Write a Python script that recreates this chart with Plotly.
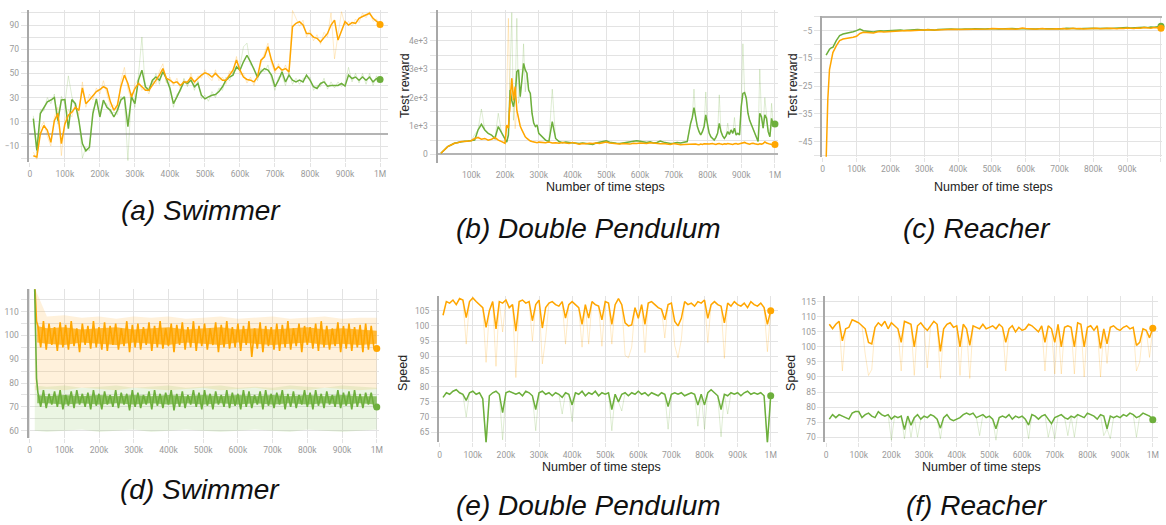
import plotly.graph_objects as go

W, H = 1166, 525
ORANGE = "#FFA600"
GREEN = "#6DAF3C"
OR_RAW = "rgba(255,166,0,0.22)"
GR_RAW = "rgba(109,175,60,0.22)"
OR_BAND = "rgba(255,190,90,0.22)"
GR_BAND = "rgba(130,190,80,0.16)"
OR_CORE = "rgba(255,166,0,0.75)"
GR_CORE = "rgba(109,175,60,0.75)"
GRID = "#e3e3e3"

# ---------------- x tick labels (thousands of steps) ----------------
X_TICK_VALS = [0, 100, 200, 300, 400, 500, 600, 700, 800, 900, 1000]
X_TICK_TEXT = ["0", "100k", "200k", "300k", "400k", "500k", "600k", "700k", "800k", "900k", "1M"]

# ---------------- (a) Swimmer: test reward ----------------
A_X = list(range(10, 1001, 10))
A_ORANGE = [-18, -19, 0, 7, 3, -7, 11, 17, -8, 8,
            15.5, 18, 22, 19.5, 38, 25, 28, 32, 35, 36.7,
            39, 37.5, 26.5, 19.5, 23.7, 39, 48.6, 41.7, 30.6, 37.5,
            41.7, 39, 36, 36, 40, 44.4, 48.6, 54, 45.8, 44.4,
            42.2, 43, 40, 43, 43, 46.6, 43, 45.8, 48.6, 50.5,
            49.4, 47, 50, 47, 44.4, 44.4, 48.6, 52.7, 61, 52.7,
            47, 45, 44.4, 43, 47, 61, 63.8, 72, 61, 52.7,
            55.5, 52.7, 54, 51.3, 88.6, 91.4, 92.8, 90, 83, 83,
            80, 79, 76, 80, 83, 90, 94, 77.6, 86, 92.8,
            90, 92, 91.4, 95.5, 97, 98.3, 99.7, 95.5, 92.8, 90.5]
A_GREEN = [12.6, -13.6, 16.8, 22, 26.5, 28, 30, 11, 28, 28.4,
           4.4, 28.4, 25, 11, -8, -14, -11, 16.8, 29, 14,
           28, 22, 19.5, 14, 19.5, 28, 30.6, 6, 30.6, 25,
           44.4, 52.7, 39, 36, 44.4, 47, 44.4, 51.3, 45.8, 37.5,
           25, 30.6, 37.5, 43, 41.7, 44.4, 39, 41.7, 32, 29,
           30.6, 32, 32.5, 35, 39, 44.4, 47, 48.6, 55.5, 52.7,
           59.6, 65, 59.6, 52.7, 47, 51.3, 54, 52.7, 48.6, 39,
           44.4, 51.3, 43, 48.6, 44.4, 43, 44.4, 43, 48.6, 44.4,
           39, 37.5, 41.7, 43, 39.5, 40, 40, 40, 41.7, 39.5,
           48.6, 45.8, 47, 44.4, 47, 44.4, 47, 43, 45.8, 45]
A_ORANGE_RAW = [-15, -21, 5, 10, -2, -10, 14, 22, -18, 12,
                20, 14, 25, 16, 43, 22, 33, 28, 38, 33,
                44, 34, 22, 24, 20, 44, 55, 37, 27, 41,
                45, 36, 39, 33, 44, 41, 52, 58, 42, 47,
                40, 46, 37, 45, 40, 50, 41, 48, 46, 53,
                47, 44, 53, 44, 47, 41, 52, 50, 64, 49,
                50, 42, 47, 40, 50, 58, 67, 75, 58, 50,
                58, 50, 57, 49, 102, 95, 89, 94, 80, 86,
                77, 82, 74, 84, 80, 100, 62, 82, 101, 90,
                93, 89, 95, 92, 100, 96, 101, 93, 95, 89]
A_GREEN_RAW = [15, -16, 20, 19, 30, 25, 33, 8, 31, 25,
               48, 31, 22, 14, -20, -11, -14, 20, 26, 17,
               25, 25, 17, 18, 16, 31, 28, -22, 34, 22,
               48, 80, 36, 39, 41, 50, 41, 54, 43, 40,
               22, 33, 35, 46, 39, 47, 36, 44, 29, 32,
               27, 35, 30, 38, 36, 47, 44, 51, 53, 56,
               72, 75, 57, 55, 44, 54, 51, 57, 45, 36,
               47, 48, 40, 51, 41, 46, 41, 46, 46, 47,
               36, 40, 39, 46, 37, 43, 38, 43, 39, 42,
               55, 43, 50, 42, 50, 41, 50, 40, 48, 43]

# ---------------- (b) Double Pendulum: test reward ----------------
B_X = (list(range(10, 200, 10)) + list(range(200, 300, 5))
       + list(range(300, 750, 10)) + list(range(750, 1001, 5)))
B_ORANGE = ([35, 150, 270, 330, 390, 410, 450, 450, 470, 480, 560, 590, 530, 560, 500, 530, 590, 500, 450]
            + [390, 1035, 920, 1900, 2680, 1900, 2390, 1560, 1210, 1000, 860, 720, 620, 560, 500, 470, 450, 430, 420, 410]
            + [430, 420, 410, 430, 400, 410, 390, 420, 400, 380, 420, 390, 360, 380, 370, 390, 380, 400, 380, 410,
               430, 400, 380, 370, 360, 380, 370, 360, 390, 380, 400, 390, 380, 410, 390, 380, 370, 380, 360, 350,
               380, 360, 340, 350, 360]
            + [350, 360, 370, 360, 350, 340, 360, 350, 370, 360, 350, 360, 370, 380, 360, 350, 370, 380, 360, 350,
               370, 360, 380, 370, 360, 350, 370, 380, 360, 370, 380, 400, 420, 390, 370, 360, 380, 390, 370, 360,
               350, 370, 360, 380, 440, 400, 370, 360, 350, 360, 350])
B_GREEN = ([35, 150, 270, 330, 390, 420, 450, 460, 470, 480, 500, 860, 1060, 860, 740, 680, 560, 980, 740]
           + [500, 430, 680, 2270, 1900, 1680, 2030, 2920, 2980, 2030, 2620, 3210, 2980, 2860, 2270, 2150, 1450, 1100, 980, 1035]
           + [740, 620, 500, 450, 1150, 560, 450, 410, 430, 420, 400, 390, 380, 400, 380, 370, 350, 400, 430, 470,
              480, 430, 400, 390, 380, 400, 420, 430, 440, 480, 460, 440, 420, 440, 400, 420, 470, 430, 400, 380,
              390, 420, 400, 430, 450]
           + [1090, 1300, 1650, 1300, 980, 800, 680, 800, 980, 1390, 980, 750, 620, 550, 500, 600, 740, 1090, 800, 650,
              560, 650, 800, 700, 860, 740, 920, 680, 740, 680, 1680, 2150, 2180, 1980, 1450, 1200, 1035, 900, 740, 600,
              450, 1450, 1330, 920, 1390, 1270, 800, 620, 1270, 1035, 1070])
B_ORANGE_SPIKES = {205: 2100, 210: 4800, 215: 1500, 225: 2200, 230: 900, 120: 650, 170: 650}
B_GREEN_SPIKES = {110: 700, 130: 1600, 180: 1450, 215: 2500, 220: 5000, 225: 1200, 235: 4800, 240: 1800,
                  255: 3900, 260: 2200, 340: 2300, 760: 2300, 795: 2200, 835: 2100, 905: 3900, 955: 3000,
                  970: 2000, 990: 1800, 880: 1300, 860: 1100}

# ---------------- (c) Reacher: test reward ----------------
C_X = [10, 15, 20, 25, 30] + list(range(40, 1001, 10))
C_ORANGE = ([-52, -29.8, -19, -15.3, -12.9, -10.5, -8.6, -8, -7.8, -7.7, -7.4, -7, -6, -5.6, -5.7, -5.6,
             -5.8, -5.5, -5.3, -5.5, -5.4, -5.3]
            + [-5.2, -5.1, -5.0, -5.0, -4.9, -5.0, -4.9, -4.8, -4.9, -4.8,
               -4.7, -4.8, -4.9, -4.8, -4.7, -4.6, -4.7, -4.6, -4.5, -4.6,
               -4.6, -4.5, -4.6, -4.5, -4.4, -4.5, -4.6, -4.5, -4.4, -4.2,
               -4.3, -4.4, -4.5, -4.4, -4.3, -4.4, -4.5, -4.3, -4.0, -4.2,
               -4.3, -4.4, -4.5, -4.3, -4.2, -4.4, -4.5, -4.4, -4.3, -4.4,
               -4.2, -4.4, -4.3, -4.1, -4.3, -4.2, -4.4, -4.3, -4.2, -4.3,
               -4.1, -4.3, -4.2, -4.3, -4.1, -4.2, -4.3, -4.1, -4.2, -4.0,
               -4.1, -4.2, -4.0, -4.1, -3.9, -4.0, -4.1, -3.9, -4.0, -4.1])
C_GREEN = ([-13.8, -12.5, -11.7, -11.2, -11, -8.6, -6.8, -6.2, -6, -5.6, -5.4, -5, -4.4, -5, -5.2, -5.3,
            -5.5, -5.2, -5, -5.1, -5, -5]
           + [-5.0, -4.9, -4.8, -4.9, -4.8, -4.7, -4.8, -4.6, -4.7, -4.8,
              -4.6, -4.7, -4.8, -4.6, -4.5, -4.6, -4.5, -4.4, -4.5, -4.6,
              -4.5, -4.4, -4.5, -4.4, -4.3, -4.4, -4.3, -4.4, -4.3, -4.2,
              -4.3, -4.4, -4.3, -4.4, -4.3, -4.2, -4.3, -4.4, -4.3, -4.3,
              -4.4, -4.3, -4.4, -4.3, -4.3, -4.4, -4.2, -4.3, -4.4, -4.2,
              -4.3, -4.1, -4.2, -4.3, -4.2, -4.3, -4.2, -4.1, -4.2, -4.1,
              -4.2, -4.1, -4.2, -4.1, -4.2, -4.1, -4.0, -4.1, -4.0, -3.9,
              -4.0, -3.9, -3.8, -3.9, -3.8, -3.9, -3.7, -3.8, -3.6, -3.4])

# ---------------- (d) Swimmer: speed ----------------
D_X = [14, 17, 20] + list(range(24, 1001, 8))
D_ORANGE = ([125, 112, 106]
            + [104, 95, 106, 94, 105, 96, 103.5, 93.5, 105.5, 95,
               104.5, 94, 106, 95.5, 103, 93, 105, 96, 104, 94.5,
               106, 95, 103.5, 94, 105.5, 93.5, 104, 96, 105, 94,
               103, 95.5, 106, 93, 104.5, 95, 105, 94, 103.5, 96,
               105.5, 93.5, 104, 95, 106, 94.5, 103, 95.5, 105, 93,
               104.5, 96, 105.5, 94, 103.5, 95, 106, 93.5, 104, 95.5,
               105, 94, 103, 96, 105.5, 93, 104.5, 95, 106, 94.5,
               103.5, 95, 105, 93.5, 104, 96, 106, 91, 103, 94.5,
               105.5, 93, 104, 95.5, 103.5, 94, 105, 93.5, 104.5, 95,
               106, 94, 103, 95.5, 105, 93, 104, 96, 103.5, 94.5,
               105, 93.5, 106, 95, 104, 94, 103, 95.5, 105.5, 93,
               104, 94.5, 105, 93.5, 103.5, 95, 104.5, 93, 105, 94,
               104, 94.5, 94.5])
D_GREEN = ([125, 100, 82]
           + [76, 70, 77, 69.5, 75.5, 71, 76.5, 70, 77, 69,
              75, 70.5, 76.5, 69.5, 77, 71, 75.5, 70, 76, 69,
              77, 70.5, 75.5, 69, 76.5, 71, 75, 70, 77, 69.5,
              76, 71, 75.5, 68.5, 77, 70, 76, 69.5, 75, 71,
              76.5, 69, 77, 70.5, 75.5, 69.5, 76, 71, 77, 68.5,
              75.5, 70, 76.5, 69.5, 75, 71, 77, 70, 76, 69,
              77, 70.5, 75.5, 69, 76.5, 71, 75, 70, 77, 69.5,
              76, 70.5, 75.5, 69, 77, 70, 76.5, 69.5, 75, 71,
              76.5, 69, 77, 70.5, 75.5, 69.5, 76, 71, 77, 69,
              75.5, 70, 76.5, 69.5, 75, 71, 77, 70, 76, 69,
              77, 70.5, 75.5, 69.5, 76.5, 71, 75, 70, 77, 69.5,
              76, 70.5, 76.5, 69, 77, 70, 75.5, 69.5, 76, 71,
              76, 70, 70])
D_BAND_X = [15] + list(range(50, 1001, 50))
D_ORANGE_HI = [120, 108, 108.5, 107.5, 108, 107, 108, 107.5, 108, 107, 107.5, 108, 107, 107.5, 108, 107, 107.5, 108, 107, 107.5, 107.5]
D_ORANGE_LO = [77, 77.5, 77, 78, 77.5, 77, 78, 77.5, 77, 77.5, 78, 77, 77.5, 78, 77, 77.5, 77, 78, 77.5, 77, 77.5]
D_GREEN_HI = [79, 78.5, 79, 78, 78.5, 79, 78, 78.5, 79, 78, 78.5, 79, 78, 78.5, 78, 79, 78.5, 78, 79, 78.5, 78]
D_GREEN_LO = [60, 59.5, 60, 60.5, 59.5, 60, 60.5, 59.5, 60, 60.5, 60, 59.5, 60, 60.5, 60, 59.5, 60.5, 60, 59.5, 60, 60.5]
D_CORE_X = [22] + list(range(50, 1001, 50))
D_ORANGE_CORE_HI = [104, 103, 103.5, 102.5, 103, 103.5, 102.5, 103, 103.5, 102.5, 103, 103.5, 102.5, 103, 102.5, 103, 103.5, 102.5, 103, 102.5, 102]
D_ORANGE_CORE_LO = [97, 96.5, 96, 97, 96.5, 96, 97, 96.5, 96, 97, 96.5, 96, 97, 96.5, 96, 96.5, 97, 96, 96.5, 96, 96.5]
D_GREEN_CORE_HI = [75, 74.5, 75, 74.5, 75, 74.5, 75, 74.5, 75, 74.5, 75, 74.5, 75, 74.5, 75, 74.5, 75, 74.5, 75, 74.5, 74.5]
D_GREEN_CORE_LO = [71.5, 71.5, 71, 71.5, 71, 71.5, 71, 71.5, 71, 71.5, 71, 71.5, 71, 71.5, 71, 71.5, 71, 71.5, 71, 71.5, 71]

# ---------------- (e) Double Pendulum: speed ----------------
E_X = list(range(10, 1001, 10))
E_ORANGE = [103.5, 108, 107.5, 108.5, 107, 109, 108.5, 102.7, 108, 109.2,
            108, 107, 106, 99.5, 105, 108, 99, 108, 107.5, 108.5,
            106, 107, 98.3, 108, 108.5, 107.5, 108, 101.7, 107, 108.5,
            99.3, 106, 107.5, 108, 107, 106.5, 108, 102.6, 107, 108,
            107, 106, 100.5, 107, 102.6, 108, 107, 106.5, 102, 108,
            107.5, 100.5, 107, 109, 107, 101, 100, 100.3, 106, 102.5,
            107, 100.5, 107.5, 108, 107, 106, 105.5, 102, 107, 107.5,
            101.5, 100, 102.5, 108, 107, 107.5, 106.5, 108, 107.5, 108.5,
            102.5, 107, 108, 107, 106.5, 101, 107.5, 106.5, 108, 107,
            106.5, 107.5, 106, 108, 107, 106.5, 107.5, 106, 100.5, 105]
E_GREEN = [76.5, 78, 77.5, 78.5, 79, 78, 77.5, 75.5, 78, 78.5,
           77.5, 78, 76, 61.5, 77, 78, 78.5, 77.5, 71.5, 78,
           78.5, 78, 77.5, 78, 77, 78.5, 78, 77, 72.5, 78,
           78.5, 77.5, 78, 77, 78, 77.5, 76.5, 78, 77.5, 74,
           78, 77.5, 78.5, 77, 78, 77.5, 78.5, 77, 78, 77.5,
           78, 72.5, 77.5, 75, 77.5, 78, 77, 78, 77.5, 78.5,
           77.5, 78, 77, 78, 77.5, 77, 78, 77.5, 73.5, 77.5,
           78, 77.5, 78, 77, 77.5, 78, 77.5, 74, 77.5, 74,
           78, 79, 78, 77, 72.5, 77.5, 77, 78, 77.5, 78,
           77, 78, 78.5, 77.5, 78, 77.5, 78, 77, 61.5, 77]
E_ORANGE_SPIKES = {80: 94, 140: 88, 170: 86.7, 190: 98, 230: 83, 280: 95, 310: 87.5, 320: 96, 380: 94,
                   430: 93, 450: 94, 490: 93.3, 520: 94, 560: 90.3, 570: 89.5, 580: 93, 620: 91.2, 680: 96,
                   710: 93.5, 720: 89.5, 730: 95.5, 810: 94.5, 860: 89.3, 990: 91.5}
E_GREEN_SPIKES = {80: 70, 140: 61, 190: 62.5, 290: 65.5, 370: 71, 400: 68.5, 520: 65.5, 550: 72, 690: 66,
                  780: 67, 800: 66, 850: 63.5, 870: 71, 990: 61}

# ---------------- (f) Reacher: speed ----------------
F_X = list(range(10, 1001, 10))
F_ORANGE = [107.5, 106, 107.5, 108.5, 102, 106, 106.5, 109, 108.5, 108,
            107, 106, 101.5, 101, 106.5, 108, 107, 108.5, 106, 108,
            107, 106, 101.5, 108.5, 108, 107.5, 100, 107, 108, 106.5,
            105.5, 107, 108.5, 107.5, 98.5, 106, 107.5, 108, 106.5, 107,
            100, 107.5, 106, 100.5, 107, 106.5, 106, 107.5, 106, 106.5,
            107, 106, 107.5, 106.5, 101.5, 106, 107, 105, 106.5, 105.5,
            106, 107.5, 107, 106, 105, 107, 101.5, 107, 106, 101.5,
            107.5, 100, 106.5, 107, 106.5, 100, 108, 107.5, 100, 106.5,
            107, 105.5, 107, 99.5, 106, 101, 106.5, 107, 106, 105.5,
            106.5, 107, 106, 106.5, 100.5, 101.5, 106, 105.5, 103, 106.2]
F_GREEN = [76, 77.5, 76.5, 77.5, 77, 76.5, 76, 78, 78.5, 78.5,
           76.5, 77.5, 78, 77, 76.5, 78.5, 77.5, 77, 77.5, 76,
           77, 76.5, 77, 72.5, 77, 74, 76.5, 77.5, 76, 77,
           76.5, 77.5, 77, 76, 73, 76.5, 77.5, 76, 75.5, 76,
           76.5, 77.5, 78, 77.5, 78, 76.5, 77, 77.5, 76.5, 77,
           76, 72.8, 76.5, 77, 76.5, 77.5, 76, 77, 76.5, 77,
           76, 74, 77.5, 77, 76, 77, 77.5, 76, 74.5, 76.5,
           77, 77.5, 76.5, 76, 77, 76.5, 77.5, 77, 76.5, 78,
           77.5, 77, 76, 77.5, 77, 72.8, 77, 76.5, 77, 76.5,
           77.5, 77, 78, 77.5, 76.5, 77, 78, 77.5, 77, 75.8]
F_ORANGE_SPIKES = {50: 92, 120: 97.5, 130: 90.5, 140: 92.5, 230: 92, 270: 90.5, 310: 93, 350: 89.5,
                   410: 90.5, 440: 89.5, 550: 92, 670: 92, 700: 91, 720: 91, 760: 91, 790: 90, 840: 90,
                   860: 94.5, 950: 92, 960: 95, 990: 96.5}
F_GREEN_SPIKES = {200: 69, 240: 69.5, 260: 70, 280: 70, 350: 69.5, 470: 70.5, 520: 69, 620: 69.5,
                  680: 70, 700: 69.5, 740: 70.5, 760: 70, 850: 70.5, 870: 69.5, 950: 70}

CAPTIONS = ["(a) Swimmer", "(b) Double Pendulum", "(c) Reacher",
            "(d) Swimmer", "(e) Double Pendulum", "(f) Reacher"]
X_TITLE = "Number of time steps"
Y_TITLES = {2: "Test reward", 3: "Test reward", 5: "Speed", 6: "Speed"}


def with_spikes(xs, ys, spikes):
    return [spikes.get(x, y) for x, y in zip(xs, ys)]


fig = go.Figure()


def ax(i):
    return ("x" if i == 1 else f"x{i}"), ("y" if i == 1 else f"y{i}")


def line(i, xs, ys, color, width=1.5, end=True):
    xa, ya = ax(i)
    fig.add_trace(go.Scatter(x=xs, y=ys, mode="lines", line=dict(color=color, width=width),
                             xaxis=xa, yaxis=ya, hoverinfo="skip", showlegend=False))
    if end:
        fig.add_trace(go.Scatter(x=[xs[-1]], y=[ys[-1]], mode="markers",
                                 marker=dict(color=color, size=7), cliponaxis=False,
                                 xaxis=xa, yaxis=ya, hoverinfo="skip", showlegend=False))


def band(i, xs, lo, hi, color):
    xa, ya = ax(i)
    fig.add_trace(go.Scatter(x=xs, y=lo, mode="lines", line=dict(width=0, color=color),
                             xaxis=xa, yaxis=ya, hoverinfo="skip", showlegend=False))
    fig.add_trace(go.Scatter(x=xs, y=hi, mode="lines", line=dict(width=0, color=color),
                             fill="tonexty", fillcolor=color,
                             xaxis=xa, yaxis=ya, hoverinfo="skip", showlegend=False))


# (a)
line(1, A_X, A_ORANGE_RAW, OR_RAW, 1, end=False)
line(1, A_X, A_GREEN_RAW, GR_RAW, 1, end=False)
line(1, A_X, A_GREEN, GREEN)
line(1, A_X, A_ORANGE, ORANGE)
# (b)
line(2, B_X, with_spikes(B_X, B_ORANGE, B_ORANGE_SPIKES), OR_RAW, 1, end=False)
line(2, B_X, with_spikes(B_X, B_GREEN, B_GREEN_SPIKES), GR_RAW, 1, end=False)
line(2, B_X, B_GREEN, GREEN)
line(2, B_X, B_ORANGE, ORANGE)
# (c)
line(3, C_X, C_GREEN, GREEN)
line(3, C_X, C_ORANGE, ORANGE)
# (d)
band(4, D_BAND_X, D_ORANGE_LO, D_ORANGE_HI, OR_BAND)
band(4, D_BAND_X, D_GREEN_LO, D_GREEN_HI, GR_BAND)
band(4, D_CORE_X, D_ORANGE_CORE_LO, D_ORANGE_CORE_HI, OR_CORE)
band(4, D_CORE_X, D_GREEN_CORE_LO, D_GREEN_CORE_HI, GR_CORE)
line(4, D_X, D_ORANGE, ORANGE, 1.6)
line(4, D_X, D_GREEN, GREEN, 1.6)
# (e)
line(5, E_X, with_spikes(E_X, E_ORANGE, E_ORANGE_SPIKES), OR_RAW, 1, end=False)
line(5, E_X, with_spikes(E_X, E_GREEN, E_GREEN_SPIKES), GR_RAW, 1, end=False)
line(5, E_X, E_ORANGE, ORANGE)
line(5, E_X, E_GREEN, GREEN)
# (f)
line(6, F_X, with_spikes(F_X, F_ORANGE, F_ORANGE_SPIKES), OR_RAW, 1, end=False)
line(6, F_X, with_spikes(F_X, F_GREEN, F_GREEN_SPIKES), GR_RAW, 1, end=False)
line(6, F_X, F_ORANGE, ORANGE)
line(6, F_X, F_GREEN, GREEN)

TICKFONT = dict(family="Roboto, Arial, sans-serif", size=8.5, color="#9a9a9a")

# panel geometry in pixels: left, right, top, bottom ; ranges
PANELS = {
    1: dict(px=(27, 388, 10, 162), xr=[-2.8, 1022.7], yr=[-23.2, 102.4],
            yt=[-10, 10, 30, 50, 70, 90], ytt=None, ym=10, xshow0=True, zero=True),
    2: dict(px=(437.8, 780, 10, 162.7), xr=[0, 1009], yr=[-296, 5093],
            yt=[0, 1000, 2000, 3000, 4000], ytt=["0", "1e+3", "2e+3", "3e+3", "4e+3"], ym=500,
            xshow0=False, zero=True),
    3: dict(px=(824.3, 1166, 15.7, 156.7), xr=[-2, 1003], yr=[-50.45, 0.4],
            yt=[-5, -15, -25, -35, -45], ytt=None, ym=5, xshow0=True, zero=True),
    4: dict(px=(26.7, 379, 289.3, 437.7), xr=[-2.9, 1006.6], yr=[57.06, 119.4],
            yt=[60, 70, 80, 90, 100, 110], ytt=None, ym=5, xshow0=True, zero=False),
    5: dict(px=(439.3, 780, 296, 442.3), xr=[-2.1, 1022], yr=[61.7, 109.84],
            yt=[65, 70, 75, 80, 85, 90, 95, 100, 105], ytt=None, ym=None, xshow0=True, zero=False),
    6: dict(px=(827.7, 1162, 296, 442.3), xr=[-1.8, 1016], yr=[68.3, 116.9],
            yt=[70, 75, 80, 85, 90, 95, 100, 105, 110, 115], ytt=None, ym=None, xshow0=True, zero=False),
}

layout = dict(width=W, height=H, margin=dict(l=0, r=0, t=0, b=0),
              paper_bgcolor="white", plot_bgcolor="white", showlegend=False)

for i, p in PANELS.items():
    l, r, t, b = p["px"]
    sfx = "" if i == 1 else str(i)
    xa, ya = ax(i)
    xt = X_TICK_VALS if p["xshow0"] else X_TICK_VALS[1:]
    xtt = X_TICK_TEXT if p["xshow0"] else X_TICK_TEXT[1:]
    layout["xaxis" + sfx] = dict(domain=[l / W, r / W], range=p["xr"], anchor=ya,
                                 tickmode="array", tickvals=xt, ticktext=xtt,
                                 showgrid=True, gridcolor=GRID, gridwidth=1,
                                 ticks="outside", ticklen=4, tickcolor=GRID,
                                 tickfont=TICKFONT, showline=False, zeroline=False)
    yd = dict(domain=[1 - b / H, 1 - t / H], range=p["yr"], anchor=xa,
              tickmode="array", tickvals=p["yt"],
              showgrid=True, gridcolor=GRID, gridwidth=1,
              ticks="outside", ticklen=6, tickcolor=GRID,
              tickfont=TICKFONT, showline=True, linecolor="#a8a8a8", linewidth=2,
              zeroline=p["zero"], zerolinecolor="#b4b4b4", zerolinewidth=1.5)
    if p["ytt"]:
        yd["ticktext"] = p["ytt"]
    if p["ym"]:
        yd["minor"] = dict(tickmode="linear", tick0=0, dtick=p["ym"], showgrid=True,
                           gridcolor=GRID, ticks="outside", ticklen=6, tickcolor=GRID)
    layout["yaxis" + sfx] = yd

annotations = []
CAP_POS = [(200, 210), (590, 228), (980, 228), (199, 489), (590, 505), (980, 505)]
for txt, (cx, cy) in zip(CAPTIONS, CAP_POS):
    annotations.append(dict(text="<i>" + txt + "</i>", x=cx / W, y=1 - cy / H, xref="paper", yref="paper",
                            showarrow=False, xanchor="center", yanchor="middle",
                            font=dict(family="Liberation Sans, Arial, sans-serif", size=28, color="#111")))
XT_POS = {2: (607, 187), 3: (997, 187), 5: (603, 467), 6: (985, 467)}
for i, (cx, cy) in XT_POS.items():
    annotations.append(dict(text=X_TITLE, x=cx / W, y=1 - cy / H, xref="paper", yref="paper",
                            showarrow=False, xanchor="center", yanchor="middle",
                            font=dict(family="Liberation Sans, Arial, sans-serif", size=12.5, color="#222")))
YT_POS = {2: (405, 85), 3: (795, 85), 5: (403, 373), 6: (793, 373)}
for i, (cx, cy) in YT_POS.items():
    annotations.append(dict(text=Y_TITLES[i], x=cx / W, y=1 - cy / H, xref="paper", yref="paper",
                            showarrow=False, xanchor="center", yanchor="middle", textangle=-90,
                            font=dict(family="Liberation Sans, Arial, sans-serif", size=12.5, color="#222")))
layout["annotations"] = annotations

fig.update_layout(**layout)
fig.write_html("out.html", config={"displayModeBar": False},
               post_script="document.body.style.margin='0px';document.body.style.padding='0px';")
